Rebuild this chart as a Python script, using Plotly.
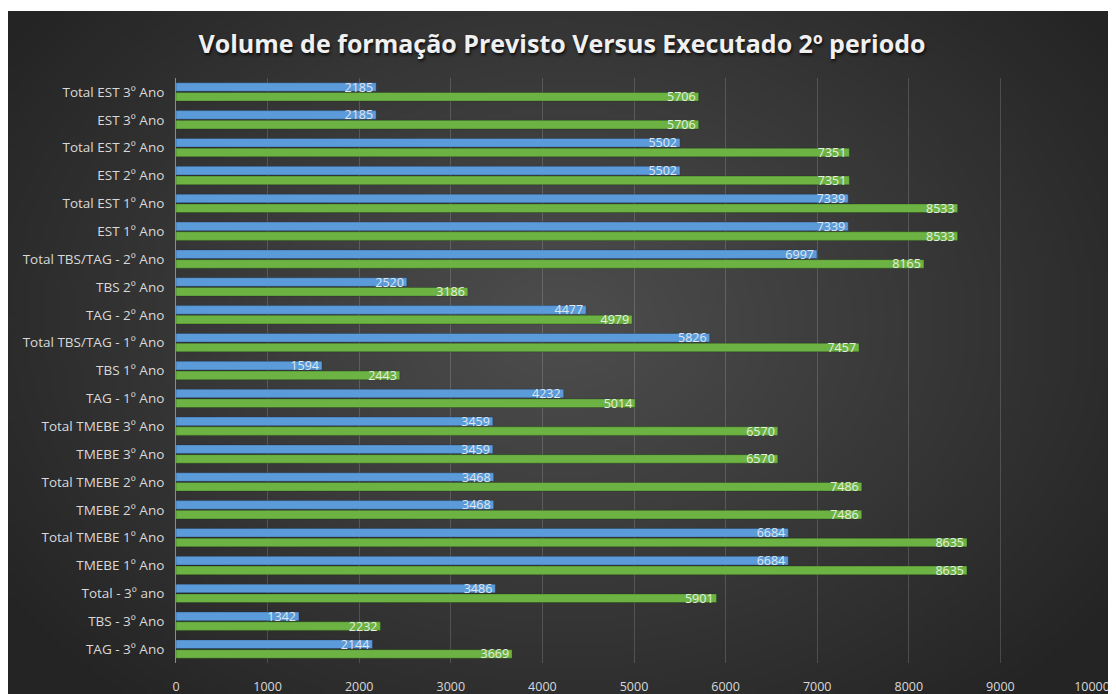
import base64, struct, zlib
import numpy as np
import plotly.graph_objects as go

categories = [
    "Total EST 3º Ano", "EST 3º Ano", "Total EST 2º Ano", "EST 2º Ano",
    "Total EST 1º Ano", "EST 1º Ano", "Total TBS/TAG - 2º Ano", "TBS 2º Ano",
    "TAG - 2º Ano", "Total TBS/TAG - 1º Ano", "TBS 1º Ano", "TAG - 1º Ano",
    "Total TMEBE 3º Ano", "TMEBE 3º Ano", "Total TMEBE 2º Ano", "TMEBE 2º Ano",
    "Total TMEBE 1º Ano", "TMEBE 1º Ano", "Total - 3º ano", "TBS - 3º Ano",
    "TAG - 3º Ano",
]
executado = [2185, 2185, 5502, 5502, 7339, 7339, 6997, 2520, 4477, 5826, 1594,
             4232, 3459, 3459, 3468, 3468, 6684, 6684, 3486, 1342, 2144]
previsto = [5706, 5706, 7351, 7351, 8533, 8533, 8165, 3186, 4979, 7457, 2443,
            5014, 6570, 6570, 7486, 7486, 8635, 8635, 5901, 2232, 3669]
x_ticks = [0, 1000, 2000, 3000, 4000, 5000, 6000, 7000, 8000, 9000, 10000]
title = "Volume de formação Previsto Versus Executado 2º periodo"

# figure is placed at page offset (8, 8) by the default body margin
W, H = 1108, 686
L, R, T, B = 168, 1084, 70, 655
PX0, PY0 = 0, 3


def make_png(w, h):
    yy, xx = np.mgrid[0:h, 0:w].astype(float)
    sx = (W - PX0) / w
    sy = (H - PY0) / h
    X = PX0 + xx * sx
    Y = PY0 + yy * sy
    d = np.sqrt(((X - 552) / 620) ** 2 + ((Y - 312) / 460) ** 2)
    c = 78 - 42 * np.clip(d, 0, 1.1) / 1.1
    img = np.stack([c, c, c], axis=-1).clip(0, 255).astype(np.uint8)
    raw = b"".join(b"\x00" + img[r].tobytes() for r in range(h))

    def chunk(t, data):
        return struct.pack(">I", len(data)) + t + data + struct.pack(">I", zlib.crc32(t + data) & 0xffffffff)

    png = b"\x89PNG\r\n\x1a\n" + chunk(b"IHDR", struct.pack(">IIBBBBB", w, h, 8, 2, 0, 0, 0)) \
        + chunk(b"IDAT", zlib.compress(raw, 9)) + chunk(b"IEND", b"")
    return "data:image/png;base64," + base64.b64encode(png).decode()


pw, ph = R - L, B - T

fig = go.Figure()
fig.add_trace(go.Bar(
    y=categories, x=executado, orientation="h", name="Executado",
    marker=dict(color="#5b9bd9", line=dict(color="rgba(20,40,70,0.6)", width=0.5)),
    text=[str(v) for v in executado], textposition="inside", insidetextanchor="end",
    textangle=0, constraintext="none",
    insidetextfont=dict(family="Open Sans", size=12.5, color="#dfe6ee"),
))
fig.add_trace(go.Bar(
    y=categories, x=previsto, orientation="h", name="Previsto",
    marker=dict(color="#6cb343", line=dict(color="rgba(20,50,10,0.6)", width=0.5)),
    text=[str(v) for v in previsto], textposition="inside", insidetextanchor="end",
    textangle=0, constraintext="none",
    insidetextfont=dict(family="Open Sans", size=12.5, color="#e6eee0"),
))

fig.update_layout(
    width=W, height=H,
    barmode="group", bargap=0.3, bargroupgap=0.12,
    showlegend=False,
    paper_bgcolor="white", plot_bgcolor="rgba(0,0,0,0)",
    margin=dict(l=L, r=W - R, t=T, b=H - B, autoexpand=False),
    title=dict(
        text=title, x=0.5, xanchor="center", y=1 - 36 / H, yanchor="middle",
        font=dict(family="Open Sans", size=25, color="#f0f0f0", weight="bold",
                  shadow="1px 2px 3px rgba(0,0,0,0.8)"),
    ),
    images=[dict(
        source=make_png(277, 171), xref="paper", yref="paper",
        x=(PX0 - L) / pw, y=(B - PY0) / ph,
        sizex=(W - PX0) / pw, sizey=(H - PY0) / ph,
        xanchor="left", yanchor="top", sizing="stretch", layer="below",
    )],
    xaxis=dict(
        range=[0, 10000], tickvals=x_ticks, ticktext=[str(v) for v in x_ticks],
        showgrid=True, gridcolor="rgba(255,255,255,0.16)", gridwidth=1,
        zeroline=False, showline=False, ticks="",
        tickfont=dict(family="Open Sans", size=12.5, color="#d9d9d9"),
        ticklabelstandoff=14, automargin=False, fixedrange=True,
    ),
    yaxis=dict(
        autorange="reversed", showgrid=False, zeroline=False,
        showline=True, linecolor="#8c8c8c", linewidth=1, ticks="",
        tickfont=dict(family="Open Sans", size=13.5, color="#d9d9d9"),
        ticklabelstandoff=8, automargin=False,
    ),
)

fig.write_html("out.html")
